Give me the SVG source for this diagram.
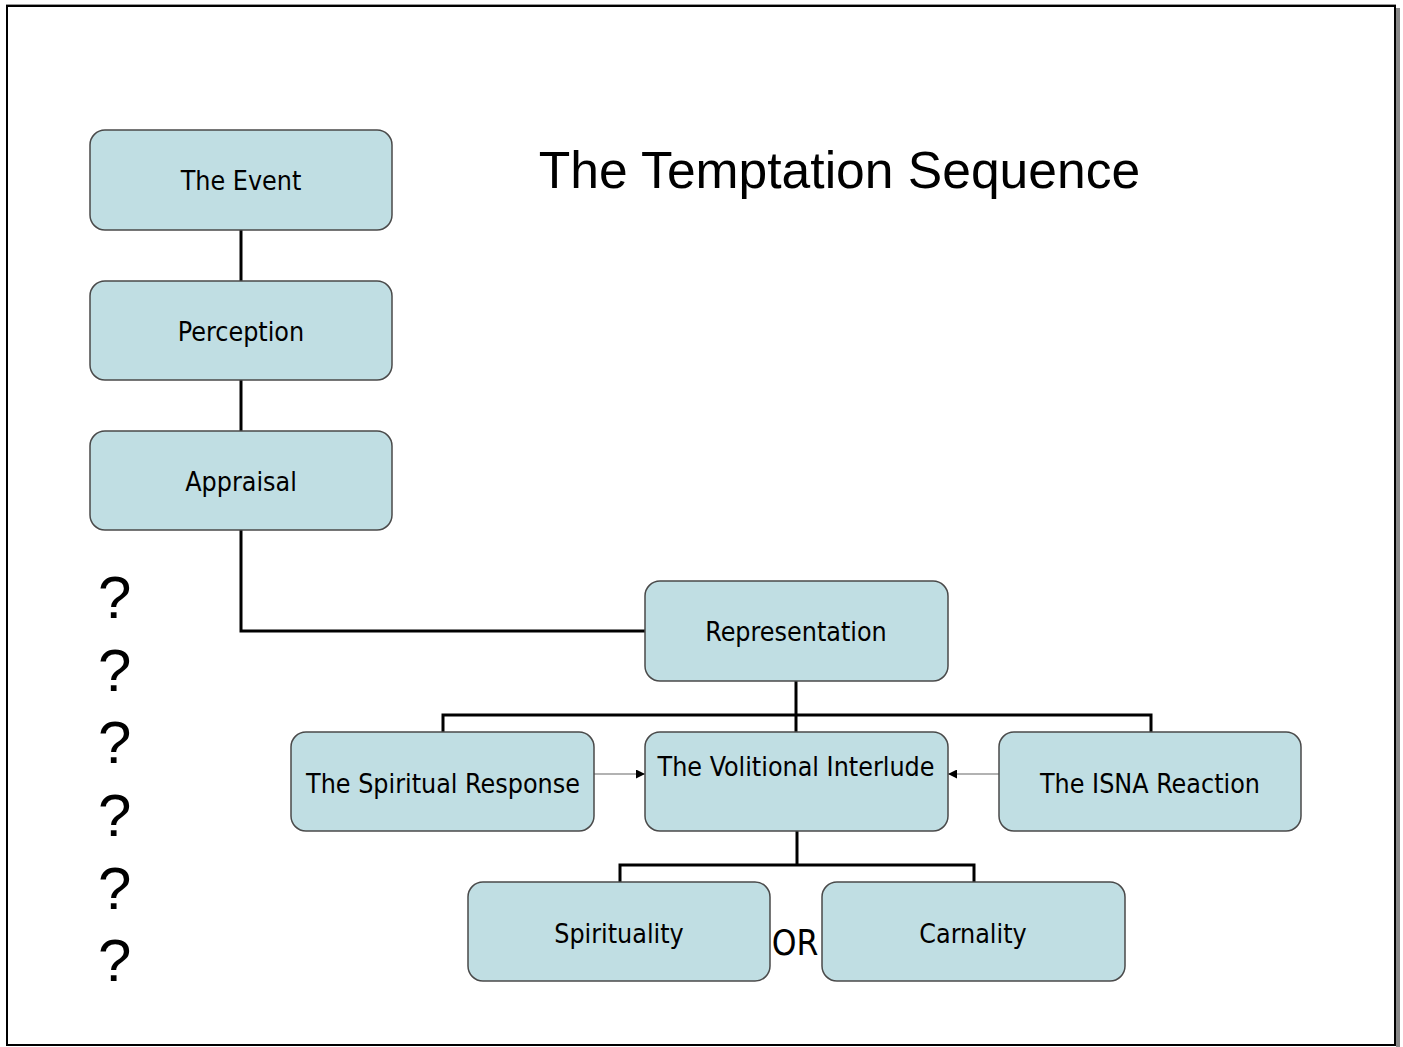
<svg xmlns="http://www.w3.org/2000/svg" width="1403" height="1047" viewBox="0 0 1403 1047">
<style>
.box{fill:#C0DEE3;stroke:#4a4a4a;stroke-width:1.5}
.lbl{font-family:"DejaVu Sans Condensed","DejaVu Sans",sans-serif;font-size:26.6px;fill:#000;text-anchor:middle}
.q{font-family:"Liberation Sans",Arial,sans-serif;font-size:60px;fill:#000}
.ln{stroke:#000;stroke-width:3;fill:none}
.ar{stroke:#666;stroke-width:1.2;fill:none;marker-end:url(#ah)}
</style>
<defs>
<marker id="ah" viewBox="0 0 10 10" refX="10" refY="5" markerWidth="10" markerHeight="9" markerUnits="userSpaceOnUse" orient="auto">
<path d="M0,0 L10,5 L0,10 z" fill="#000"/>
</marker>
</defs>
<rect x="0" y="0" width="1403" height="1047" fill="#fff"/>
<rect x="1396" y="8" width="4" height="1039" fill="#888"/>
<line x1="6" y1="4.5" x2="1396" y2="4.5" stroke="#999" stroke-width="1"/>
<rect x="7" y="6" width="1388" height="1039" fill="#fff" stroke="#000" stroke-width="2"/>
<text x="839.5" y="188" font-family="Liberation Sans,Arial,sans-serif" font-size="51.6" text-anchor="middle">The Temptation Sequence</text>
<g id="connectors">
<line class="ln" x1="241" y1="230" x2="241" y2="281"/>
<line class="ln" x1="241" y1="380" x2="241" y2="431"/>
<polyline class="ln" points="241,530 241,631 645,631"/>
<line class="ln" x1="796" y1="681" x2="796" y2="715"/>
<polyline class="ln" points="443,732 443,715 1151,715 1151,732"/>
<line class="ln" x1="796" y1="715" x2="796" y2="732"/>
<line class="ln" x1="797" y1="831" x2="797" y2="865"/>
<polyline class="ln" points="620,882 620,865 974,865 974,882"/>
<line class="ar" x1="594" y1="774" x2="645" y2="774"/>
<line class="ar" x1="999" y1="774" x2="948" y2="774"/>
</g>
<g id="n-event"><rect class="box" x="90" y="130" width="302" height="100" rx="15"/><text class="lbl" x="241" y="190">The Event</text></g>
<g id="n-perception"><rect class="box" x="90" y="281" width="302" height="99" rx="15"/><text class="lbl" x="241" y="341">Perception</text></g>
<g id="n-appraisal"><rect class="box" x="90" y="431" width="302" height="99" rx="15"/><text class="lbl" x="241" y="491">Appraisal</text></g>
<g id="n-representation"><rect class="box" x="645" y="581" width="303" height="100" rx="15"/><text class="lbl" x="796" y="641">Representation</text></g>
<g id="n-spiritual"><rect class="box" x="291" y="732" width="303" height="99" rx="15"/><text class="lbl" x="443" y="793">The Spiritual Response</text></g>
<g id="n-volitional"><rect class="box" x="645" y="732" width="303" height="99" rx="15"/><text class="lbl" x="796" y="776">The Volitional Interlude</text></g>
<g id="n-isna"><rect class="box" x="999" y="732" width="302" height="99" rx="15"/><text class="lbl" x="1150" y="793">The ISNA Reaction</text></g>
<g id="n-spirituality"><rect class="box" x="468" y="882" width="302" height="99" rx="15"/><text class="lbl" x="619" y="943">Spirituality</text></g>
<g id="n-carnality"><rect class="box" x="822" y="882" width="303" height="99" rx="15"/><text class="lbl" x="973" y="943">Carnality</text></g>
<text x="795" y="955" font-family="DejaVu Sans Condensed,DejaVu Sans,sans-serif" font-size="35" text-anchor="middle">OR</text>
<g id="questions">
<text class="q" x="98" y="618">?</text>
<text class="q" x="98" y="691">?</text>
<text class="q" x="98" y="763">?</text>
<text class="q" x="98" y="836">?</text>
<text class="q" x="98" y="909">?</text>
<text class="q" x="98" y="981">?</text>
</g>
</svg>
